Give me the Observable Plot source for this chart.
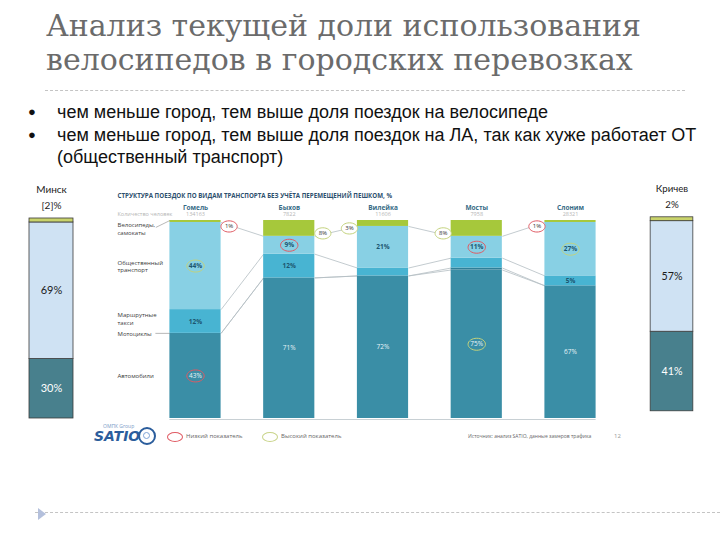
<!DOCTYPE html>
<html><head><meta charset="utf-8">
<script src="https://cdn.jsdelivr.net/npm/d3@7"></script>
<script src="https://cdn.jsdelivr.net/npm/@observablehq/plot@0.6"></script>
<style>
body{margin:0;background:#fff;}
#page{position:relative;width:720px;height:540px;overflow:hidden;background:#fff;}
.abs{position:absolute;}
#title{left:46px;top:9px;font-family:"DejaVu Serif","Liberation Serif","Noto Serif",serif;font-size:30px;line-height:34px;color:#6b6b6b;white-space:nowrap;}
.dash{position:absolute;height:0;border-top:1px dashed #c4c4c4;}
#bullets{left:28px;top:101px;font-family:"Liberation Sans",Arial,sans-serif;font-size:18px;line-height:22.5px;color:#111;}
#bullets .b{position:relative;padding-left:29px;white-space:nowrap;}
#bullets .b:before{content:"●";position:absolute;left:0;top:0;font-size:13px;}
.plot{position:absolute;}
.small{font-family:"Open Sans",sans-serif;color:#666;white-space:nowrap;}
</style></head><body><div id="page">
<div id="title" class="abs">Анализ текущей доли использования<br>велосипедов в городских перевозках</div>
<div class="dash" style="left:45px;top:90px;width:640px;"></div>
<div id="bullets" class="abs">
 <div class="b">чем меньше город, тем выше доля поездок на велосипеде</div>
 <div class="b">чем меньше город, тем выше доля поездок на ЛА, так как хуже работает ОТ<br>(общественный транспорт)</div>
</div>
<div id="minsk" class="plot" style="left:1px;top:178px;"></div>
<div id="center" class="plot" style="left:100px;top:178px;"></div>
<div id="krichev" class="plot" style="left:623px;top:178px;"></div>
<!-- footer of embedded chart -->
<div class="abs small" style="left:103px;top:423px;font-size:5px;color:#7a9cc8;">ОМПК Group</div>
<div class="abs" style="left:94px;top:428px;font-family:'DejaVu Sans',sans-serif;font-weight:bold;font-style:italic;font-size:14px;color:#2b5d9c;">SATIO</div>
<div class="abs" style="left:138px;top:427px;width:14px;height:14px;border:2px solid #2b5d9c;border-radius:50%;"></div>
<div class="abs" style="left:143px;top:432px;width:5px;height:5px;border:1.5px solid #7ea3d6;border-radius:50%;"></div>
<div class="abs" style="left:167px;top:432px;width:14px;height:8px;border:1px solid #e05a63;border-radius:50%;"></div>
<div class="abs small" style="left:186px;top:432px;font-size:6px;">Низкий показатель</div>
<div class="abs" style="left:262px;top:432px;width:14px;height:8px;border:1px solid #c9d48a;border-radius:50%;"></div>
<div class="abs small" style="left:281px;top:432px;font-size:6px;">Высокий показатель</div>
<div class="abs small" style="left:468px;top:433px;font-size:5px;">Источник: анализ SATIO, данные замеров трафика</div>
<div class="abs small" style="left:614px;top:432px;font-size:6px;color:#999;">12</div>
<div class="dash" style="left:35px;top:512px;width:685px;"></div>
<div class="abs" style="left:38px;top:508px;width:0;height:0;border-top:6px solid transparent;border-bottom:6px solid transparent;border-left:8px solid #b4c0dc;"></div>
</div>
<script>
// ---- data: central chart (shares of trips, %, bottom to top) ----
const cities = ["Гомель","Быхов","Вилейка","Мосты","Слоним"];
const population = ["134163","7822","11606","7958","28321"];
const modes = ["Автомобили","Мотоциклы","Маршрутные такси","Общественный транспорт","Велосипеды, самокаты"];
const modeLabels = ["Автомобили","Мотоциклы","Маршрутные\nтакси","Общественный\nтранспорт","Велосипеды,\nсамокаты"];
const cars    = [43, 71, 72, 75, 67];
const moto    = [0, 0, 0, 1, 0];
const taxi    = [12, 12, 4, 5, 5];
const publicT = [44, 9, 21, 11, 27];
const bikes   = [1, 8, 3, 8, 1];
const taxiLabelShown = [true, true, false, false, true];
const bikeRating   = ["low","high","high","high","low"];
const bikeSide     = ["right","right","left","left","left"];
const publicRating = ["high","low",null,"low","high"];
const carRating    = ["low",null,null,"high",null];
// ---- data: side bars ----
const sideCities = ["Минск","Кричев"];
const sideBikeLabel = ["[2]%","2%"];
const sideBike   = [2, 2];
const sidePublic = [69, 57];
const sideCars   = [30, 41];

const modeColors = ["#3a8ea6","#2f7f98","#48b4d2","#88d0e4","#a6c83b"];
const lowColor = "#e05a63", highColor = "#c3d27c";

// ellipse symbol
const ellipse = {draw(ctx, size){
  const r = Math.sqrt(size/Math.PI), rx = r*1.45, ry = r, k = 0.5523;
  ctx.moveTo(rx,0);
  ctx.bezierCurveTo(rx, ry*k, rx*k, ry, 0, ry);
  ctx.bezierCurveTo(-rx*k, ry, -rx, ry*k, -rx, 0);
  ctx.bezierCurveTo(-rx, -ry*k, -rx*k, -ry, 0, -ry);
  ctx.bezierCurveTo(rx*k, -ry, rx, -ry*k, rx, 0);
  ctx.closePath();
}};

const hw = 0.273;
const rows = [];
cities.forEach((c,i)=>{
  let cum = 0;
  [cars[i],moto[i],taxi[i],publicT[i],bikes[i]].forEach((v,k)=>{
    rows.push({city:c,i,k,mode:modes[k],value:v,y1:cum,y2:cum+v,mid:cum+v/2});
    cum += v;
  });
});
const get = (i,k)=>rows.find(r=>r.i===i&&r.k===k);
const links = [];
for (let k=0;k<4;k++) for (let i=0;i<cities.length-1;i++){
  links.push({x1:i+hw, y1:get(i,k).y2, x2:i+1-hw, y2:get(i+1,k).y2});
}
// inner labels
const inner = [];
cities.forEach((c,i)=>{
  inner.push({...get(i,0), rating:carRating[i]});
  if (taxiLabelShown[i]) inner.push({...get(i,2), rating:null});
  inner.push({...get(i,3), rating:publicRating[i]});
});
inner.forEach(d=>d.label = d.value + "%");
const callouts = cities.map((c,i)=>({
  x: i + (bikeSide[i]==="right" ? 1 : -1)*(hw+0.085),
  y: 100 - bikes[i]/2 - 2.5,
  label: bikes[i] + "%", rating: bikeRating[i]
}));
const catLabels = modes.map((m,k)=>{
  const r = get(0,k);
  return {text: modeLabels[k], y: k===1 ? r.y2 : (k===4 ? 96 : (k===2 ? r.mid + 1.5 : r.mid))};
});

const center = Plot.plot({
  width:530, height:270, marginLeft:95, marginRight:60, marginTop:42, marginBottom:30,
  x:{domain:[0,cities.length-1], axis:null},
  y:{domain:[0,100], axis:null},
  color:{domain:modes, range:modeColors},
  style:{fontFamily:"Open Sans, sans-serif", overflow:"visible", background:"transparent"},
  marks:[
    Plot.ruleY([0], {x1:-hw, x2:cities.length-1+hw, stroke:"#c8d0d4", strokeWidth:1, dy:1}),
    Plot.link(links, {x1:"x1", y1:"y1", x2:"x2", y2:"y2", stroke:"#b4bec3", strokeWidth:0.8}),
    Plot.rect(rows, {x1:d=>d.i-hw, x2:d=>d.i+hw, y1:"y1", y2:"y2", fill:"mode"}),
    // leader lines for category labels
    Plot.link([{a:-hw-0.155, b:-hw, y:get(0,0).y2}], {x1:"a", x2:"b", y1:"y", y2:"y", stroke:"#888", strokeWidth:0.6}),
    Plot.link([{a:-hw-0.15, b:-hw, y1:96.5, y2:100}], {x1:"a", x2:"b", y1:"y1", y2:"y2", stroke:"#888", strokeWidth:0.6}),
    // outer callouts for bicycles
    Plot.dot(callouts.filter(d=>d.rating==="low"), {x:"x", y:"y", r:5.6, symbol:ellipse, fill:"white", stroke:lowColor, strokeWidth:1}),
    Plot.dot(callouts.filter(d=>d.rating==="high"), {x:"x", y:"y", r:5.6, symbol:ellipse, fill:"white", stroke:highColor, strokeWidth:1}),
    Plot.text(callouts, {x:"x", y:"y", text:"label", fontSize:6, fill:"#333"}),
    // inner ellipses
    Plot.dot(inner.filter(d=>d.rating==="low"), {x:"i", y:"mid", r:6, symbol:ellipse, fill:"none", stroke:lowColor, strokeWidth:1}),
    Plot.dot(inner.filter(d=>d.rating==="high"), {x:"i", y:"mid", r:6, symbol:ellipse, fill:"none", stroke:highColor, strokeWidth:1}),
    Plot.text(inner.filter(d=>d.k!==0), {x:"i", y:"mid", text:"label", fontSize:6.5, fontWeight:"bold", fill:"#1d5670"}),
    Plot.text(inner.filter(d=>d.k===0), {x:"i", y:"mid", text:"label", fontSize:6.5, fill:"#e8f4f8"}),
    // headers
    Plot.text(cities, {x:(d,i)=>i, y:()=>100, dy:-13, text:d=>d, fontSize:6.5, fontWeight:"bold", fill:"#356b85"}),
    Plot.text(population, {x:(d,i)=>i, y:()=>100, dy:-6, text:d=>d, fontSize:5.5, fill:"#b5b5b5"}),
    Plot.text(["Количество человек"], {frameAnchor:"left", y:()=>100, dx:-78, dy:-6, textAnchor:"start", text:d=>d, fontSize:5.5, fill:"#b5b5b5"}),
    Plot.text(["СТРУКТУРА ПОЕЗДОК ПО ВИДАМ ТРАНСПОРТА БЕЗ УЧЁТА ПЕРЕМЕЩЕНИЙ ПЕШКОМ, %"], {frameAnchor:"top-left", dx:-78, dy:-27, textAnchor:"start", text:d=>d, fontSize:6.2, fontWeight:"bold", fill:"#2d4f6e"}),
    Plot.text(catLabels, {frameAnchor:"left", y:"y", dx:-78, textAnchor:"start", text:"text", fontSize:6, lineHeight:1.3, fill:"#3a3a3a"})
  ]
});
document.getElementById("center").appendChild(center);

function sidePlot(j){
  const city = sideCities[j];
  const vals = [sideCars[j], sidePublic[j], sideBike[j]];
  const names = ["cars","public","bike"];
  let cum = 0;
  const data = vals.map((v,k)=>{ const d = {city, mode:names[k], value:v, mid:cum+v/2, label:v+"%"}; cum += v; return d; });
  return Plot.plot({
    width:100, height:245, marginTop:40, marginBottom:5, marginLeft:28, marginRight:28,
    x:{domain:[city], axis:null, padding:0},
    y:{axis:null, domain:[0,cum]},
    color:{domain:names, range:["#48808d","#cfe2f3","#c9d36b"]},
    style:{fontFamily:"Lato, 'Open Sans', sans-serif", overflow:"visible", background:"transparent"},
    marks:[
      Plot.barY(data, {x:"city", y:"value", fill:"mode", stroke:"#3a3a3a", strokeWidth:0.8}),
      Plot.text(data.filter(d=>d.mode==="public"), {x:"city", y:"mid", text:"label", fontSize:11, fill:"#1a1a1a"}),
      Plot.text(data.filter(d=>d.mode==="cars"), {x:"city", y:"mid", text:"label", fontSize:11, fill:"#ffffff"}),
      Plot.text([city], {x:d=>d, frameAnchor:"top", dy:-33, text:d=>d, fontSize:10, fill:"#222"}),
      Plot.text([sideBikeLabel[j]], {x:()=>city, frameAnchor:"top", dy:-17, text:d=>d, fontSize:10, fill:"#222"})
    ]
  });
}
document.getElementById("minsk").appendChild(sidePlot(0));
document.getElementById("krichev").appendChild(sidePlot(1));
</script>
</body></html>
